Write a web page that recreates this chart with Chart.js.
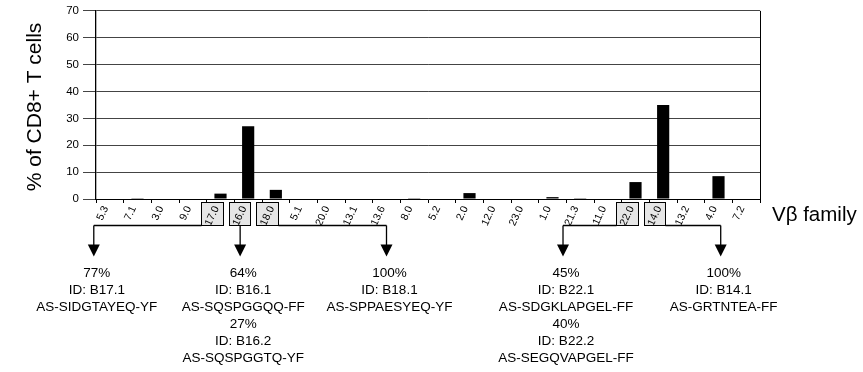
<!DOCTYPE html>
<html><head><meta charset="utf-8">
<script src="https://cdn.jsdelivr.net/npm/chart.js@4.4.0/dist/chart.umd.min.js"></script>
<style>html,body{margin:0;padding:0;background:#fff;} canvas{display:block;}</style>
</head><body>
<canvas id="c" width="863" height="372"></canvas>
<script>
const categories = ['5.3','7.1','3.0','9.0','17.0','16.0','18.0','5.1','20.0','13.1','13.6','8.0','5.2','2.0','12.0','23.0','1.0','21.3','11.0','22.0','14.0','13.2','4.0','7.2'];
const percentCD8 = [0,0.3,0,0,2.0,27.1,3.4,0,0,0,0,0.3,0,2.2,0,0,0.7,0.3,0,6.3,35,0,8.5,0];
const yMin = 0, yMax = 70, yStep = 10;
const boxedFamilies = ['17.0','16.0','18.0','22.0','14.0'];
const yTitle = '% of CD8+ T cells';
const xTitle = 'V\u03b2 family';
// clone annotations: anchor category + shift (in category widths)
const cloneNotes = [
  {cat:'5.3', shift:-0.58, lines:['77%','ID: B17.1','AS-SIDGTAYEQ-YF']},
  {cat:'16.0', shift:-0.29, lines:['64%','ID: B16.1','AS-SQSPGGQQ-FF','27%','ID: B16.2','AS-SQSPGGTQ-YF']},
  {cat:'13.6', shift:0, lines:['100%','ID: B18.1','AS-SPPAESYEQ-YF']},
  {cat:'21.3', shift:-0.62, lines:['45%','ID: B22.1','AS-SDGKLAPGEL-FF','40%','ID: B22.2','AS-SEGQVAPGEL-FF']},
  {cat:'4.0', shift:0.08, lines:['100%','ID: B14.1','AS-GRTNTEA-FF']}
];
// brackets: [left note, first box, last box, right note]
const brackets = [
  {leftNote:0, firstBox:'17.0', lastBox:'18.0', rightNote:2, midNote:1},
  {leftNote:3, firstBox:'22.0', lastBox:'14.0', rightNote:4, midNote:null}
];

const FONT = "'Liberation Sans', Arial, Helvetica, sans-serif";

const decor = {
  id:'decor',
  beforeDraw(chart){
    const ctx = chart.ctx, xs = chart.scales.x;
    const w = xs.getPixelForValue(1) - xs.getPixelForValue(0);
    const base = chart.chartArea.bottom;
    ctx.save();
    ctx.fillStyle = '#fff';
    ctx.fillRect(0,0,chart.width,chart.height);
    ctx.fillStyle = '#e6e6e6';
    ctx.strokeStyle = '#000';
    ctx.lineWidth = 1;
    boxedFamilies.forEach(c => {
      const cx = xs.getPixelForValue(categories.indexOf(c));
      const l = Math.round(cx - 0.71*w) + 0.5, r = Math.round(cx + 0.08*w) + 0.5;
      const t = base + 3.5, b = base + 26.5;
      ctx.fillRect(l, t, r-l, b-t);
      ctx.strokeRect(l, t, r-l, b-t);
    });
    ctx.restore();
  },
  afterDraw(chart){
    const ctx = chart.ctx, xs = chart.scales.x, ca = chart.chartArea;
    const w = xs.getPixelForValue(1) - xs.getPixelForValue(0);
    const base = ca.bottom;
    const cxOf = c => xs.getPixelForValue(categories.indexOf(c));
    const boxL = c => Math.round(cxOf(c) - 0.71*w) + 0.5;
    const boxR = c => Math.round(cxOf(c) + 0.08*w) + 0.5;
    const noteX = n => cxOf(n.cat) + n.shift*w;
    const by = base + 26.5;
    ctx.save();
    // right border
    ctx.strokeStyle = '#000'; ctx.lineWidth = 1;
    ctx.beginPath(); ctx.moveTo(Math.round(ca.right)+0.5, ca.top); ctx.lineTo(Math.round(ca.right)+0.5, base+4); ctx.stroke();
    // brackets
    ctx.lineWidth = 1.3;
    brackets.forEach(br => {
      const lx = noteX(cloneNotes[br.leftNote]), rx = noteX(cloneNotes[br.rightNote]);
      ctx.beginPath();
      ctx.moveTo(lx, by); ctx.lineTo(boxL(br.firstBox), by);
      ctx.moveTo(boxR(br.lastBox), by); ctx.lineTo(rx, by);
      ctx.stroke();
    });
    // arrows + text
    cloneNotes.forEach(n => {
      const x = noteX(n);
      ctx.strokeStyle = '#000'; ctx.fillStyle = '#000'; ctx.lineWidth = 1.3;
      ctx.beginPath(); ctx.moveTo(x, by); ctx.lineTo(x, by + 20); ctx.stroke();
      ctx.beginPath(); ctx.moveTo(x - 6, by + 19); ctx.lineTo(x + 6, by + 19); ctx.lineTo(x, by + 31); ctx.closePath(); ctx.fill();
      ctx.font = '13.5px ' + FONT;
      ctx.textAlign = 'center'; ctx.textBaseline = 'middle';
      n.lines.forEach((t, i) => ctx.fillText(t, x + 3, base + 74 + i*17));
    });
    // axis titles
    ctx.fillStyle = '#000';
    ctx.font = '21px ' + FONT;
    ctx.save();
    ctx.translate(35, (ca.top + base)/2 + 2);
    ctx.rotate(-Math.PI/2);
    ctx.textAlign = 'center'; ctx.textBaseline = 'middle';
    ctx.fillText(yTitle, 0, 0);
    ctx.restore();
    ctx.font = '20.5px ' + FONT;
    ctx.textAlign = 'left'; ctx.textBaseline = 'middle';
    ctx.fillText(xTitle, ca.right + 12, base + 16);
    ctx.restore();
  }
};

new Chart(document.getElementById('c'), {
  type:'bar',
  data:{ labels: categories, datasets:[{ data: percentCD8, backgroundColor:'#000', borderWidth:0, barPercentage:0.44, categoryPercentage:1 }]},
  options:{
    responsive:false, animation:false, devicePixelRatio:1,
    layout:{ padding:{ left:0, top:9, right:103, bottom:143 } },
    plugins:{ legend:{display:false}, tooltip:{enabled:false}, title:{display:false} },
    scales:{
      x:{
        afterFit(s){ s.height = 30; },
        grid:{ drawOnChartArea:false, drawTicks:true, tickLength:4, color:'#000', lineWidth:1 },
        border:{ color:'#000', width:1 },
        ticks:{ autoSkip:false, minRotation:65, maxRotation:65, labelOffset:-4, color:'#000', padding:1, font:{ family:FONT, size:10.5 } }
      },
      y:{
        min:yMin, max:yMax,
        afterFit(s){ s.width = 96; },
        grid:{ color:'#444', lineWidth:1, tickLength:13 },
        border:{ color:'#000', width:1.3 },
        ticks:{ stepSize:yStep, color:'#000', padding:4, font:{ family:FONT, size:11.5 } }
      }
    }
  },
  plugins:[decor]
});
</script>
</body></html>
